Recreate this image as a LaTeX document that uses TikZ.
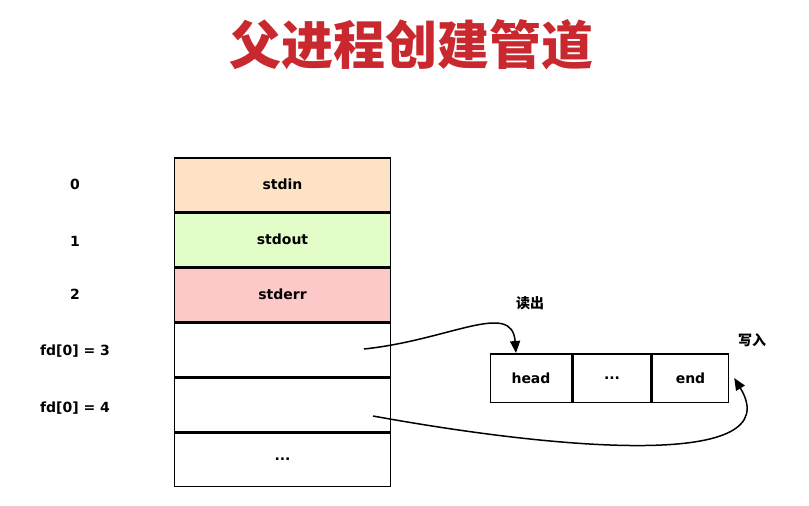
\documentclass[tikz,border=0pt]{standalone}
\usepackage{fontspec}
\setmainfont{DejaVu Sans}
\newfontfamily\cjk{Noto Sans CJK SC}
\usepackage{tikz}
\usetikzlibrary{positioning,arrows.meta}
\definecolor{titlered}{HTML}{C8282E}
\definecolor{inorange}{HTML}{FDE2C6}
\definecolor{outgreen}{HTML}{E2FDC8}
\definecolor{errred}{HTML}{FDC8C8}
\tikzset{
  cell/.style={draw, line width=1.5pt, minimum width=216pt, minimum height=53.5pt, inner sep=0pt, font=\bfseries\fontsize{14}{16}\selectfont},
  pcell/.style={draw, line width=1.5pt, minimum height=48.5pt, inner sep=0pt, font=\bfseries\fontsize{14}{16}\selectfont},
  idx/.style={font=\bfseries\fontsize{14}{16}\selectfont},
  flow/.style={line width=1.5pt, -{Triangle[length=12pt,width=10pt]}}
}
\begin{document}
\begin{tikzpicture}[x=1pt,y=-1pt]
\useasboundingbox (0,0) rectangle (809,506);
% title
\node[font=\cjk\bfseries\fontsize{52}{56}\selectfont, text=titlered] (title) at (411,45) {父进程创建管道};

% file descriptor table
\node[cell, fill=inorange] (r0) at (282.5,184.5) {stdin};
\node[cell, fill=outgreen, below=0pt of r0] (r1) {stdout};
\node[cell, fill=errred, below=0pt of r1] (r2) {stderr};
\node[cell, below=0pt of r2] (r3) {};
\node[cell, below=0pt of r3] (r4) {};
\node[cell, below=0pt of r4] (r5) {...};

% indices
\node[idx] (i0) at (75,184.5) {0};
\node[idx] (i1) at (75,241) {1};
\node[idx] (i2) at (75,294) {2};
\node[idx] (i3) at (75,351) {fd[0] = 3};
\node[idx] (i4) at (75,408) {fd[0] = 4};

% pipe
\node[pcell, minimum width=81pt] (head) at (531,378) {head};
\node[pcell, minimum width=78pt, right=0pt of head] (dots) {...};
\node[pcell, minimum width=76pt, right=0pt of dots] (end) {end};
\node[font=\cjk\bfseries\fontsize{14}{16}\selectfont] (rd) at (530,303) {读出};
\node[font=\cjk\bfseries\fontsize{14}{16}\selectfont] (wr) at (752,340) {写入};

% connectors
\coordinate (s3) at (364,349);
\coordinate (s4) at (373,416);
\draw[flow] (s3) .. controls (450,340) and (512,300) .. ([xshift=-15pt]head.north);
\draw[flow] (s4) .. controls (560,450) and (790,470) .. ([xshift=5pt]end.east);
\end{tikzpicture}
\end{document}
